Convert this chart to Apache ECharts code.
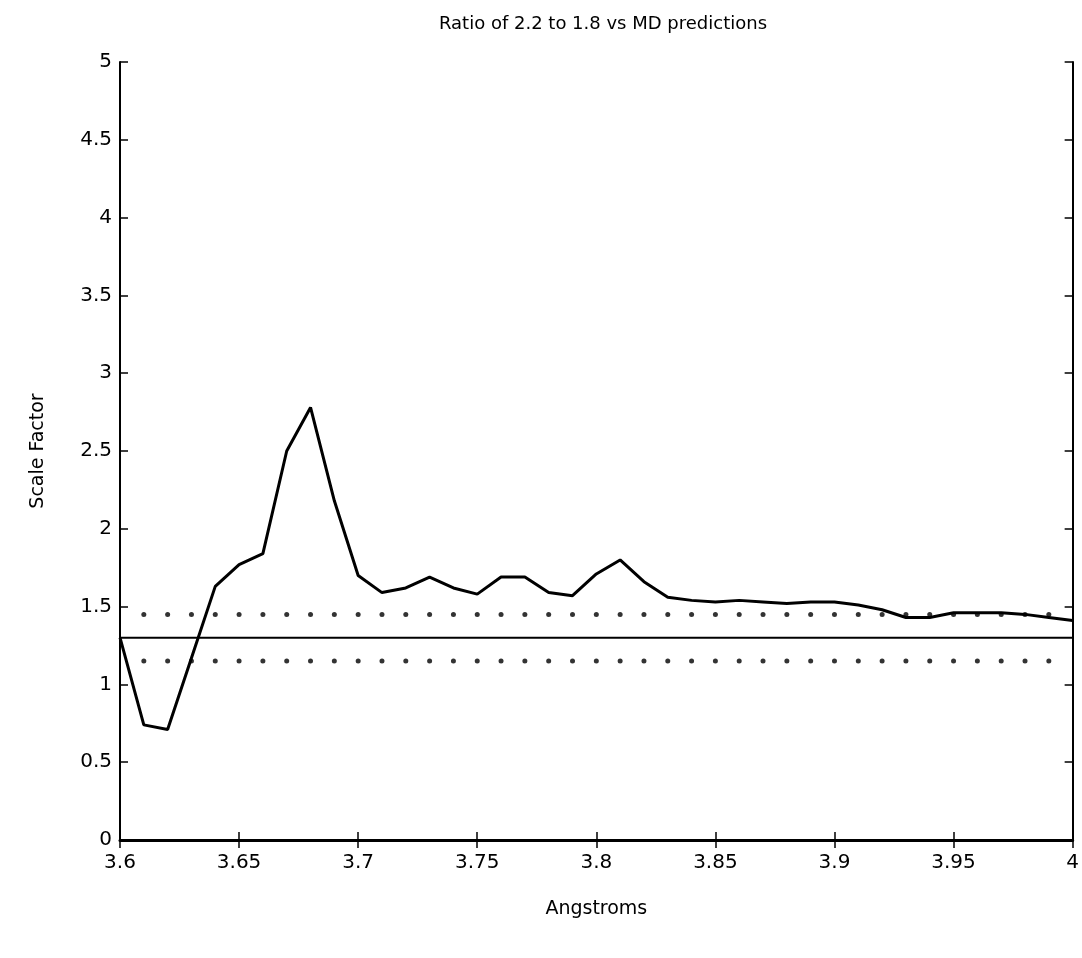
<!DOCTYPE html>
<html>
<head>
<meta charset="utf-8">
<script src="https://cdn.jsdelivr.net/npm/echarts@6/dist/echarts.min.js"></script>
<style>
html,body{margin:0;padding:0;background:#fff;}
#chart{width:1082px;height:958px;}
</style>
</head>
<body>
<div id="chart"></div>
<script>
const xValues = [3.60,3.61,3.62,3.63,3.64,3.65,3.66,3.67,3.68,3.69,3.70,3.71,3.72,3.73,3.74,3.75,3.76,3.77,3.78,3.79,3.80,3.81,3.82,3.83,3.84,3.85,3.86,3.87,3.88,3.89,3.90,3.91,3.92,3.93,3.94,3.95,3.96,3.97,3.98,3.99,4.00];
const ratio = [1.30,0.74,0.71,1.17,1.63,1.77,1.84,2.50,2.78,2.18,1.70,1.59,1.62,1.69,1.62,1.58,1.69,1.69,1.59,1.57,1.71,1.80,1.66,1.56,1.54,1.53,1.54,1.53,1.52,1.53,1.53,1.51,1.48,1.43,1.43,1.46,1.46,1.46,1.45,1.43,1.41];
const referenceLevel = 1.30;
const upperBand = 1.45;
const lowerBand = 1.15;
const dotX = xValues.slice(1, 40);
const titleText = 'Ratio of 2.2 to 1.8 vs MD predictions';
const xName = 'Angstroms';
const yName = 'Scale Factor';

const font = 'DejaVu Sans';
const chart = echarts.init(document.getElementById('chart'), null, {renderer:'canvas'});

const lineData = xValues.map((x,i)=>[x, ratio[i]]);
const refData = [[xValues[0], referenceLevel],[xValues[xValues.length-1], referenceLevel]];
const upperDots = dotX.map(x=>[x, upperBand]);
const lowerDots = dotX.map(x=>[x, lowerBand]);

const fmt = v => String(+(+v).toFixed(2));

chart.setOption({
  backgroundColor:'#fff',
  animation:false,
  title:{
    text:titleText, left:598, top:10, textAlign:'center',
    textStyle:{fontFamily:font, fontSize:18, fontWeight:'normal', color:'#000'}
  },
  grid:{left:120, right:6, top:62, bottom:118, containLabel:false},
  xAxis:[{
    type:'value', min:3.6, max:4.0, interval:0.05, position:'bottom',
    name:xName, nameLocation:'middle', nameGap:60,
    nameTextStyle:{fontFamily:font, fontSize:19, color:'#000'},
    axisLine:{show:true, lineStyle:{color:'#000', width:2}},
    axisTick:{show:true, inside:true, length:8, lineStyle:{color:'#000', width:1.5}},
    axisLabel:{fontFamily:font, fontSize:20, color:'#000', margin:13, formatter:fmt, showMaxLabel:true, showMinLabel:true},
    splitLine:{show:false}
  },{
    type:'value', min:3.6, max:4.0, interval:0.05, position:'top',
    axisLine:{show:true, lineStyle:{color:'#000', width:3}},
    axisTick:{show:true, inside:true, length:8, lineStyle:{color:'#000', width:1.5}},
    axisLabel:{show:false}, splitLine:{show:false}
  }],
  yAxis:[{
    type:'value', min:0, max:5, interval:0.5, position:'left',
    name:yName, nameLocation:'middle', nameGap:72, nameRotate:90,
    nameTextStyle:{fontFamily:font, fontSize:19, color:'#000'},
    axisLine:{show:true, lineStyle:{color:'#000', width:2}},
    axisTick:{show:true, inside:true, length:8, lineStyle:{color:'#000', width:1.5}},
    axisLabel:{fontFamily:font, fontSize:20, color:'#000', margin:8, formatter:fmt},
    splitLine:{show:false}
  },{
    type:'value', min:0, max:5, interval:0.5, position:'right',
    axisLine:{show:true, lineStyle:{color:'#000', width:2}},
    axisTick:{show:true, inside:true, length:8, lineStyle:{color:'#000', width:1.5}},
    axisLabel:{show:false}, splitLine:{show:false}
  }],
  series:[
    {type:'line', data:lineData, showSymbol:false, symbol:'none',
     lineStyle:{color:'#000', width:3}, z:5},
    {type:'line', data:refData, showSymbol:false, symbol:'none',
     lineStyle:{color:'#000', width:2}, z:4},
    {type:'scatter', data:upperDots, symbol:'circle', symbolSize:5,
     itemStyle:{color:'#000'}, z:3},
    {type:'scatter', data:lowerDots, symbol:'circle', symbolSize:5,
     itemStyle:{color:'#000'}, z:3}
  ]
});
</script>
</body>
</html>
